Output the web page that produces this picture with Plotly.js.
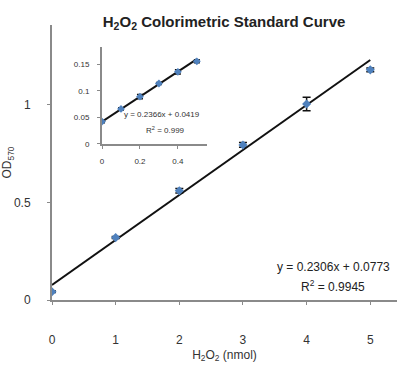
<!DOCTYPE html>
<html><head><meta charset="utf-8">
<script src="https://cdn.plot.ly/plotly-3.0.1.min.js"></script>
<style>html,body{margin:0;padding:0;background:#fff}#c{width:398px;height:365px}</style>
</head><body><div id="c"></div>
<script>
// Main standard curve (nmol)
const mainX = [0, 1, 2, 3, 4, 5];
const mainY = [0.042, 0.32, 0.56, 0.795, 1.005, 1.18];
const mainErr = [0.004, 0.005, 0.012, 0.012, 0.035, 0.01];
const mainTrendX = [0, 5];
const mainTrendY = [0.0773, 1.2303];
// Inset low-range curve
const insetX = [0, 0.1, 0.2, 0.3, 0.4, 0.5];
const insetY = [0.042, 0.066, 0.089, 0.114, 0.136, 0.156];
const insetErr = [0.002, 0.002, 0.004, 0.002, 0.004, 0.003];
const insetTrendX = [0, 0.5];
const insetTrendY = [0.0419, 0.1602];
const mainXTicks = [0, 1, 2, 3, 4, 5];
const mainYTicks = [0, 0.5, 1];
const mainYTickText = ['0', '0.5', '1'];
const insetXTicks = [0, 0.2, 0.4];
const insetYTicks = [0, 0.05, 0.1, 0.15];

const blue = '#4F81BD';
const font = 'Liberation Sans Narrow, Liberation Sans, sans-serif';
const traces = [
  {x: mainTrendX, y: mainTrendY, mode: 'lines', line: {color: '#111', width: 2}, xaxis: 'x', yaxis: 'y', hoverinfo: 'skip'},
  {x: mainX, y: mainY, mode: 'markers', marker: {symbol: 'diamond', size: 7, color: blue},
   error_y: {type: 'data', array: mainErr, color: '#111', thickness: 1.5, width: 4}, xaxis: 'x', yaxis: 'y'},
  {x: insetTrendX, y: insetTrendY, mode: 'lines', line: {color: '#111', width: 2}, xaxis: 'x2', yaxis: 'y2', hoverinfo: 'skip'},
  {x: insetX, y: insetY, mode: 'markers', marker: {symbol: 'diamond', size: 6, color: blue},
   error_y: {type: 'data', array: insetErr, color: '#111', thickness: 1.5, width: 3}, xaxis: 'x2', yaxis: 'y2'}
];
const axCommon = {showgrid: false, zeroline: false, showline: true, linecolor: '#8a8a8a', linewidth: 2,
  ticks: 'outside', ticklen: 3, tickcolor: '#8a8a8a', tickfont: {family: font, size: 12, color: '#333'}};
const layout = {
  width: 398, height: 365, showlegend: false,
  paper_bgcolor: '#fff', plot_bgcolor: 'rgba(0,0,0,0)',
  margin: {l: 52, r: 1, t: 25, b: 65},
  title: {text: '<b>H<sub>2</sub>O<sub>2</sub> Colorimetric Standard Curve</b>', x: 0.563, xanchor: 'center', y: 0.94, yanchor: 'middle',
    font: {family: font, size: 15, color: '#222'}},
  xaxis: Object.assign({}, axCommon, {range: [0, 5.42], tickvals: mainXTicks, domain: [0, 1], anchor: 'y',
    ticklabelstandoff: 25,
    title: {text: 'H<sub>2</sub>O<sub>2</sub> (nmol)', font: {family: font, size: 12, color: '#333'}, standoff: 4}}),
  yaxis: Object.assign({}, axCommon, {range: [0, 1.41], tickvals: mainYTicks, ticktext: mainYTickText, domain: [0, 1], anchor: 'x',
    ticklabelstandoff: 14,
    title: {text: 'OD<sub>570</sub>', font: {family: font, size: 12, color: '#333'}, standoff: 1}}),
  xaxis2: Object.assign({}, axCommon, {range: [0, 0.553], tickvals: insetXTicks, domain: [0.145, 0.449], anchor: 'y2',
    tickfont: {family: font, size: 8, color: '#333'}, ticklabelstandoff: 6}),
  yaxis2: Object.assign({}, axCommon, {range: [0, 0.183], tickvals: insetYTicks, domain: [0.568, 0.92], anchor: 'x2',
    tickfont: {family: font, size: 8, color: '#333'}, ticklabelstandoff: 6}),
  annotations: [
    {xref: 'paper', yref: 'paper', x: 0.985, y: 0.12, xanchor: 'right', yanchor: 'middle', showarrow: false,
     text: 'y = 0.2306x + 0.0773', font: {family: font, size: 12, color: '#222'}},
    {xref: 'paper', yref: 'paper', x: 0.815, y: 0.05, xanchor: 'center', yanchor: 'middle', showarrow: false,
     text: 'R<sup>2</sup> = 0.9945', font: {family: font, size: 12, color: '#222'}},
    {xref: 'paper', yref: 'paper', x: 0.32, y: 0.675, xanchor: 'center', yanchor: 'middle', showarrow: false,
     text: 'y = 0.2366x + 0.0419', font: {family: font, size: 8, color: '#333'}},
    {xref: 'paper', yref: 'paper', x: 0.33, y: 0.62, xanchor: 'center', yanchor: 'middle', showarrow: false,
     text: 'R<sup>2</sup> = 0.999', font: {family: font, size: 8, color: '#333'}}
  ]
};
Plotly.newPlot('c', traces, layout, {staticPlot: true, displayModeBar: false});
</script></body></html>
